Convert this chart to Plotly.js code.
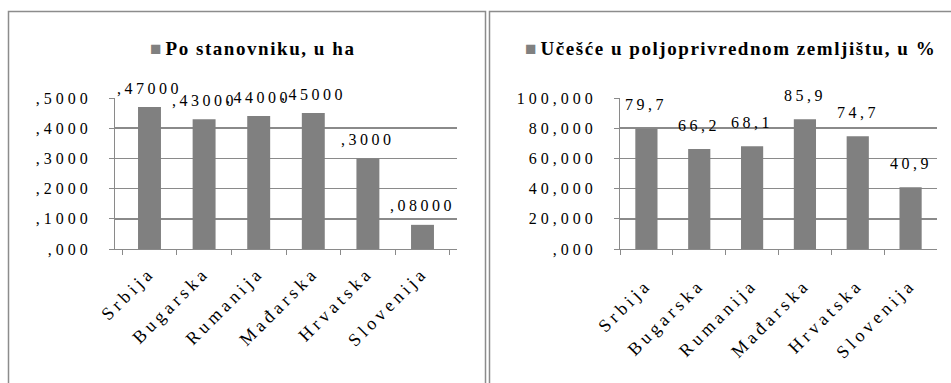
<!DOCTYPE html>
<html>
<head>
<meta charset="utf-8">
<script src="https://cdn.plot.ly/plotly-3.0.1.min.js"></script>
<style>
  html, body { margin: 0; padding: 0; background: #fff; }
  #chart { width: 951px; height: 383px; }
  /* wide, loosely set serif figures */
  .xtick text, .x2tick text, .ytick text, .y2tick text { letter-spacing: 4px; }
  .annotation-text { letter-spacing: 3.5px; }
</style>
</head>
<body>
<div id="chart"></div>
<script>
// Countries shown on both charts
const countries = ['Srbija', 'Bugarska', 'Rumanija', 'Mađarska', 'Hrvatska', 'Slovenija'];

// Agricultural land per inhabitant, in ha
const perCapitaHa = [0.47, 0.43, 0.44, 0.45, 0.30, 0.08];
const perCapitaLabels = [',47000', ',43000', ',44000', ',45000', ',3000', ',08000'];

// Share in agricultural land, in %
const sharePct = [79.7, 66.2, 68.1, 85.9, 74.7, 40.9];

// Axis ticks
const perCapitaTicks = [0, 0.1, 0.2, 0.3, 0.4, 0.5];
const perCapitaTickText = [',000', ',1000', ',2000', ',3000', ',4000', ',5000'];
const shareTicks = [0, 20, 40, 60, 80, 100];
const shareTickText = [',000', '20,000', '40,000', '60,000', '80,000', '100,000'];

const seriesNames = ['Po stanovniku, u ha', 'Učešće u poljoprivrednom zemljištu, u %'];

const W = 951, H = 383;
const px = v => v / W;
const py = v => 1 - v / H;

const serif = 'Liberation Serif';
const grey = '#808080';
const lineGrey = '#8a8a8a';

const shareLabels = sharePct.map(v => String(v).replace('.', ','));

const traces = [
  {
    type: 'bar', x: countries, y: perCapitaHa, name: seriesNames[0],
    xaxis: 'x', yaxis: 'y', showlegend: false,
    marker: { color: grey }, hoverinfo: 'skip'
  },
  {
    type: 'bar', x: countries, y: sharePct, name: seriesNames[1],
    xaxis: 'x2', yaxis: 'y2', showlegend: false,
    marker: { color: grey }, hoverinfo: 'skip'
  }
];

// value labels above the bars
const labelFont = { family: serif, size: 16, color: '#000' };
const annotations = [];
countries.forEach((c, i) => {
  annotations.push({
    xref: 'x', yref: 'y', x: c, y: perCapitaHa[i], text: perCapitaLabels[i],
    showarrow: false, yanchor: 'middle', yshift: 19, font: labelFont
  });
  annotations.push({
    xref: 'x2', yref: 'y2', x: c, y: sharePct[i], text: shareLabels[i],
    showarrow: false, yanchor: 'middle', yshift: 24, font: labelFont
  });
});

// series keys: grey swatch followed by the series name
const keyText = name =>
  '<span style="color:' + grey + ';letter-spacing:4px">■</span>' +
  '<span style="letter-spacing:1.55px">' + name + '</span>';
const keyFont = { family: serif, size: 19, color: '#000', weight: 'bold' };
annotations.push({
  xref: 'paper', yref: 'paper', x: px(148), y: py(49),
  xanchor: 'left', yanchor: 'middle', showarrow: false,
  text: keyText(seriesNames[0]), font: keyFont
});
annotations.push({
  xref: 'paper', yref: 'paper', x: px(523), y: py(49),
  xanchor: 'left', yanchor: 'middle', showarrow: false,
  text: keyText(seriesNames[1]), font: keyFont
});

const xCommon = {
  type: 'category', showline: true, linecolor: lineGrey, linewidth: 1,
  ticks: 'outside', tickson: 'boundaries', ticklen: 5, tickcolor: lineGrey,
  tickangle: -45, tickfont: { family: serif, size: 18, color: '#000' },
  showgrid: false, fixedrange: true
};
const yCommon = {
  showline: true, linecolor: lineGrey, linewidth: 1,
  ticks: 'outside', ticklen: 5, tickcolor: lineGrey,
  showgrid: true, gridcolor: lineGrey, gridwidth: 1.5, zeroline: false,
  tickfont: { family: serif, size: 16, color: '#000' },
  ticklabelstandoff: 14, fixedrange: true
};

// chart frames
const box = (x0, x1) => ({
  type: 'rect', xref: 'paper', yref: 'paper',
  x0: px(x0), x1: px(x1), y0: py(400), y1: py(11.5),
  line: { color: '#8c8c8c', width: 1.5 }, fillcolor: 'rgba(0,0,0,0)', layer: 'below'
});

const layout = {
  width: W, height: H,
  margin: { l: 0, r: 0, t: 0, b: 0 },
  paper_bgcolor: '#fff', plot_bgcolor: '#fff',
  bargap: 0.58,
  showlegend: false,
  xaxis: Object.assign({}, xCommon, {
    domain: [px(115), px(457)], anchor: 'y', ticklabelstandoff: 5
  }),
  yaxis: Object.assign({}, yCommon, {
    domain: [py(249), py(98)], anchor: 'x', range: [0, 0.5],
    tickvals: perCapitaTicks, ticktext: perCapitaTickText
  }),
  xaxis2: Object.assign({}, xCommon, {
    domain: [px(620), px(937)], anchor: 'y2', ticklabelstandoff: 17
  }),
  yaxis2: Object.assign({}, yCommon, {
    domain: [py(249), py(98)], anchor: 'x2', range: [0, 100],
    tickvals: shareTicks, ticktext: shareTickText
  }),
  shapes: [box(8.5, 485.5), box(489.5, 970)],
  annotations: annotations
};

Plotly.newPlot('chart', traces, layout, { displayModeBar: false, staticPlot: true });
</script>
</body>
</html>
